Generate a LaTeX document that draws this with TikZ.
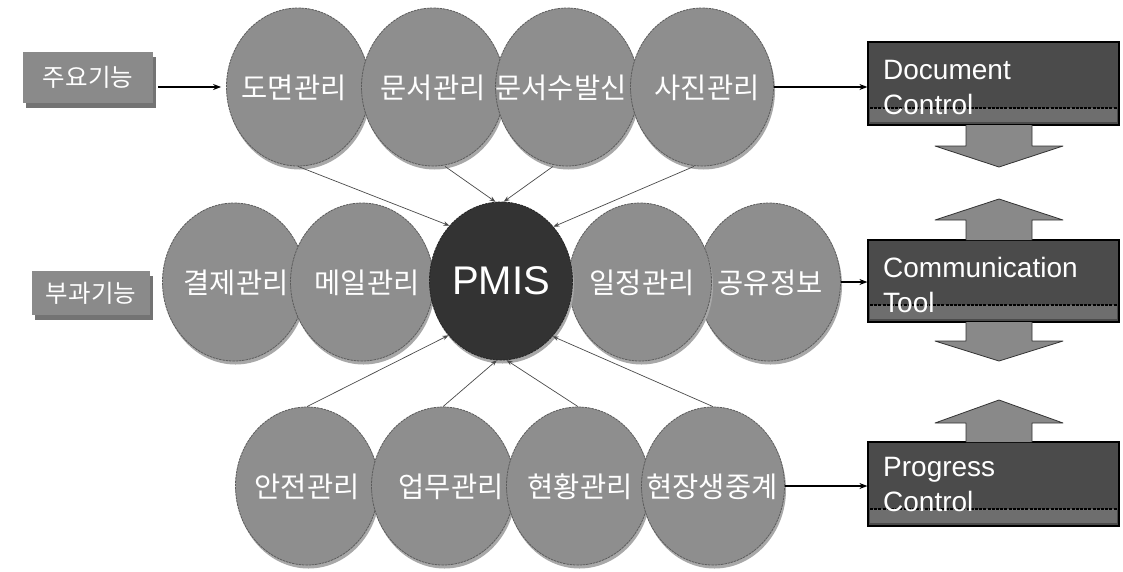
\documentclass[tikz,border=0pt]{standalone}
\usepackage{fontspec}
\setmainfont{Liberation Sans}
\newfontfamily\kr{Noto Sans CJK KR}
\usetikzlibrary{shapes.geometric,arrows.meta,calc,shadows}
\definecolor{circ}{HTML}{8E8E8E}
\definecolor{circedge}{HTML}{5C5C5C}
\definecolor{halo}{HTML}{A8A8A8}
\definecolor{pmis}{HTML}{333333}
\definecolor{tagbox}{HTML}{8A8A8A}
\definecolor{tagshadow}{HTML}{737373}
\definecolor{darkbox}{HTML}{4B4B4B}
\definecolor{band}{HTML}{6E6E6E}
\definecolor{blockarrow}{HTML}{898989}
\definecolor{connline}{HTML}{4A4A4A}
\begin{document}
\begin{tikzpicture}[x=1pt,y=-1pt,
  bub/.style={ellipse,draw=circedge,line width=0.8pt,dash pattern=on 2.5pt off 0.8pt,
    fill=circ,inner sep=0pt,minimum width=143pt,minimum height=158pt,
    drop shadow={shadow xshift=1.5pt,shadow yshift=-3.5pt,fill=halo,opacity=1}},
  kt/.style={text=white,font=\kr\fontsize{28.5}{32}\selectfont,inner sep=0pt},
  tag/.style={rectangle,fill=tagbox,text=white,font=\kr\fontsize{24.5}{28}\selectfont,
    inner sep=0pt,drop shadow={shadow xshift=3pt,shadow yshift=-5pt,fill=tagshadow,opacity=1}},
  dbox/.style={rectangle,draw=black,line width=1.2pt,fill=darkbox,inner sep=0pt},
  btxt/.style={text=white,font=\fontsize{28}{35}\selectfont,align=left,inner sep=0pt,anchor=north west},
  conn/.style={draw=connline,line width=0.7pt,-{Stealth[length=6pt,width=4.5pt]}},
  harrow/.style={draw=black,line width=1.2pt,-{Stealth[length=8pt,width=6pt]}},
  blk/.style={fill=blockarrow},
  blkline/.style={draw=black!80,line width=0.8pt,line join=round}
]
\useasboundingbox (0,0) rectangle (1123,571);
\fill[white] (0,0) rectangle (1123,571);

% ---- left tags
\node[tag,minimum width=130pt,minimum height=51pt] (jy) at (88,77.5) {주요기능};
\node[tag,minimum width=118pt,minimum height=44pt] (bg) at (91,293) {부과기능};

% ---- top row
\node[bub] (t1) at (298,87) {};
\node[bub] (t2) at (433,87) {};
\node[bub] (t3) at (567,87) {};
\node[bub] (t4) at (702,87) {};

% ---- middle row
\node[bub] (m1) at (234,282) {};
\node[bub] (m2) at (362,282) {};
\node[bub] (m4) at (769,282) {};
\node[bub] (m3) at (640,282) {};
\node[bub,fill=pmis,draw=black!85] (p) at (501,281) {};

% ---- bottom row
\node[bub] (b1) at (307,486) {};
\node[bub] (b2) at (443,486) {};
\node[bub] (b3) at (578,486) {};
\node[bub] (b4) at (713,486) {};

% ---- texts
\node[kt] (tt1) at (294,88) {도면관리};
\node[kt] (tt2) at (433,88) {문서관리};
\node[kt] (tt3) at (561,88) {문서수발신};
\node[kt] (tt4) at (707,88) {사진관리};
\node[kt] (mt1) at (236,283) {결제관리};
\node[kt] (mt2) at (367,283) {메일관리};
\node[text=white,font=\fontsize{40}{46}\selectfont,inner sep=0pt] (pt) at (501,281) {PMIS};
\node[kt] (mt3) at (642,283) {일정관리};
\node[kt] (mt4) at (770,283) {공유정보};
\node[kt] (bt1) at (307,487) {안전관리};
\node[kt] (bt2) at (451,487) {업무관리};
\node[kt] (bt3) at (580,487) {현황관리};
\node[kt] (bt4) at (712,487) {현장생중계};

% ---- connectors into PMIS
\draw[conn] (t1.south) -- (p.133);
\draw[conn] ($(t2.south)+(12,0)$) -- (p.94);
\draw[conn] ($(t3.south)+(-14,0)$) -- (p.88);
\draw[conn] ($(t4.south)+(-8,0)$) -- (p.46);
\draw[conn] (b1.north) -- (p.-134);
\draw[conn] (b2.north) -- (p.-93);
\draw[conn] (b3.north) -- (p.-86);
\draw[conn] (b4.north) -- (p.-47);

% ---- right boxes
\node[dbox,minimum width=251pt,minimum height=83pt] (dc) at (993.5,83.5) {};
\node[dbox,minimum width=251pt,minimum height=82pt] (ct) at (993.5,281) {};
\node[dbox,minimum width=251pt,minimum height=84pt] (pc) at (993.5,484) {};
\fill[band] (870,108) rectangle (1117,122);
\draw[black,line width=1.3pt,dash pattern=on 3pt off 1.2pt] (870,108) -- (1117,108);
\fill[band] (870,305) rectangle (1117,319);
\draw[black,line width=1.3pt,dash pattern=on 3pt off 1.2pt] (870,305) -- (1117,305);
\fill[band] (870,509) rectangle (1117,523);
\draw[black,line width=1.3pt,dash pattern=on 3pt off 1.2pt] (870,509) -- (1117,509);
\node[btxt] (dct) at (883,60) {Document\\Control};
\node[btxt] (ctt) at (883,257) {Communication\\Tool};
\node[btxt] (pct) at (883,457) {Progress\\Control};

% ---- block arrows
\fill[blk] (966,125) -- (966,146) -- (935,146) -- (999,167) -- (1063,146) -- (1032,146) -- (1032,125) -- cycle;
\draw[blkline] (966,125) -- (966,146) -- (935,146) -- (999,167) -- (1063,146) -- (1032,146) -- (1032,125);
\fill[blk] (966,240) -- (966,220) -- (935,220) -- (999,199) -- (1063,220) -- (1032,220) -- (1032,240) -- cycle;
\draw[blkline] (966,240) -- (966,220) -- (935,220) -- (999,199) -- (1063,220) -- (1032,220) -- (1032,240);
\fill[blk] (966,322) -- (966,341) -- (935,341) -- (999,361) -- (1063,341) -- (1032,341) -- (1032,322) -- cycle;
\draw[blkline] (966,322) -- (966,341) -- (935,341) -- (999,361) -- (1063,341) -- (1032,341) -- (1032,322);
\fill[blk] (966,442) -- (966,423) -- (935,423) -- (999,400) -- (1063,423) -- (1032,423) -- (1032,442) -- cycle;
\draw[blkline] (966,442) -- (966,423) -- (935,423) -- (999,400) -- (1063,423) -- (1032,423) -- (1032,442);

% ---- horizontal arrows
\draw[harrow,shorten <=5pt,shorten >=5pt] (jy.east |- t1.west) -- (t1.west);
\draw[harrow] (t4.east) -- (t4.east -| dc.west);
\draw[harrow] (m4.east) -- (m4.east -| ct.west);
\draw[harrow] (b4.east) -- (b4.east -| pc.west);
\end{tikzpicture}
\end{document}
